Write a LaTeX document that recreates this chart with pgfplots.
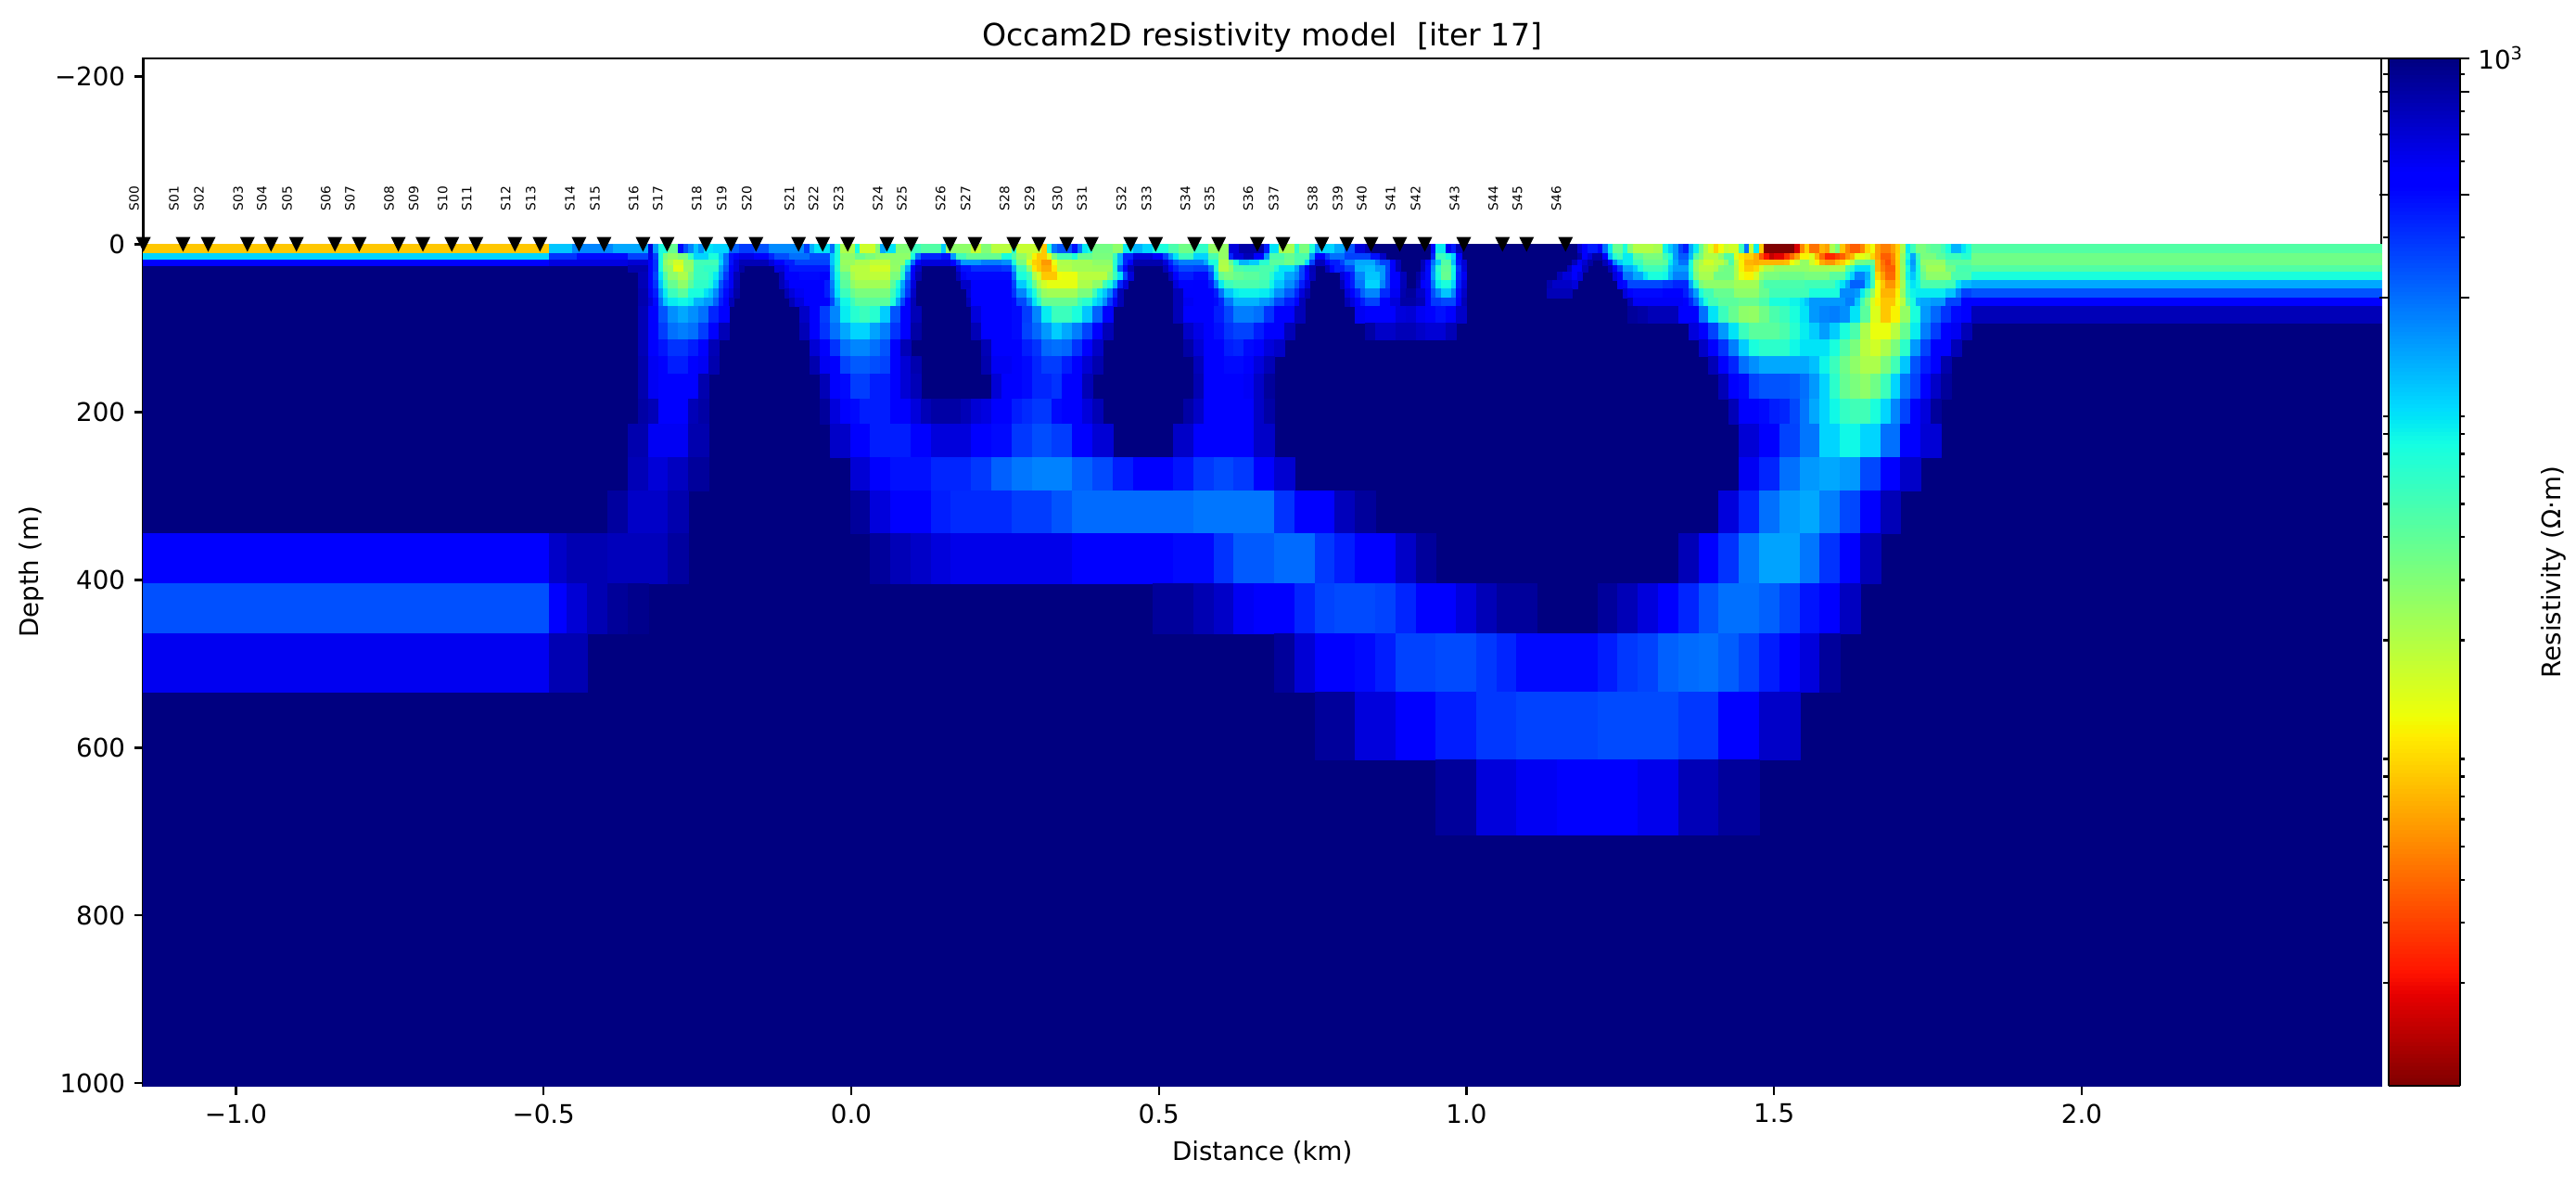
\documentclass[border=0pt]{standalone}
\usepackage{pgfplots}
\pgfplotsset{compat=1.18}
\usepackage{fontspec}
\setmainfont{DejaVu Sans}
\pgfdeclareplotmark{tridown}{%
  \pgfpathmoveto{\pgfqpoint{-2.89pt}{2.89pt}}%
  \pgfpathlineto{\pgfqpoint{2.89pt}{2.89pt}}%
  \pgfpathlineto{\pgfqpoint{0pt}{-2.89pt}}%
  \pgfpathclose\pgfusepathqfill}
\pgfplotsset{
  colormap={jetr}{rgb(0pt)=(.5,0,0); rgb(90pt)=(.909,0,0); rgb(110pt)=(1,.074,0); rgb(340pt)=(1,.926,0);
    rgb(350pt)=(.968,.963,0); rgb(360pt)=(.935,1,.032); rgb(625pt)=(.081,1,.887); rgb(650pt)=(0,.9,.968);
    rgb(660pt)=(0,.86,1); rgb(875pt)=(0,0,1); rgb(890pt)=(0,0,1); rgb(1000pt)=(0,0,.5)},
  cellstyle/.style={patch, patch type=rectangle, shader=faceted, faceted color=mapped color, line width=0.2pt, point meta=explicit, forget plot}
}
% one row of model cells: depth top, depth bottom, list of first column / last column / resistivity
\newcommand{\cellrow}[3]{%
  \gdef\rc{}%
  \foreach \a/\b/\v in {#3}{%
    \pgfmathsetmacro\xa{-0.03466+0.008207*\a}%
    \pgfmathsetmacro\xb{-0.03466+0.008207*\b}%
    \pgfmathsetmacro\mm{log10(\v)}%
    \xdef\rc{\rc (\xa,#1) [\mm] (\xb,#1) [\mm] (\xb,#2) [\mm] (\xa,#2) [\mm] }%
  }%
  \edef\tmp{\noexpand\addplot[cellstyle] coordinates {\rc};}\tmp
}
\begin{document}
\begin{tikzpicture}
\path[use as bounding box] (0,0) rectangle (1003.83pt,461.81pt);
\begin{axis}[
  at={(55.83pt,38.66pt)}, anchor=south west,
  scale only axis, width=872.1pt, height=400.4pt,
  xmin=-1.1507, xmax=2.4868, ymin=-221.7, ymax=1003, y dir=reverse,
  clip=false,
  point meta min=0, point meta max=3, colormap name=jetr,
  axis line style={line width=0.8pt},
  tick align=outside, tickwidth=3.5pt, subtickwidth=2pt,
  tick style={black, line width=0.8pt},
  xtick pos=bottom, ytick pos=left,
  xtick={-1,-0.5,0,0.5,1,1.5,2},
  xticklabels={−1.0,−0.5,0.0,0.5,1.0,1.5,2.0},
  ytick={-200,0,200,400,600,800,1000},
  yticklabels={−200,0,200,400,600,800,1000},
  tick label style={font=\fontsize{10}{12}\selectfont},
  xlabel={Distance (km)}, ylabel={Depth (m)},
  label style={font=\fontsize{10}{12}\selectfont},
  ylabel style={yshift=-2.6pt},
  title={Occam2D resistivity model\ \ [iter 17]},
  title style={font=\fontsize{12}{14}\selectfont, yshift=-7pt},
  colorbar sampled,
  colorbar shift/.style={xshift=2.5pt},
  colorbar style={
    samples=257,
    width=27.8pt,
    ytick={3,2.9031,2.7782,2.6021,2.3010},
    yticklabels={10\textsuperscript{3},,,,},
    minor ytick={2.9542,2.8451,2.6990,2.4771,1.9542,1.9031,1.8451,1.7782,1.6990,1.6021,1.4771,1.3010,0.9542,0.9031,0.8451,0.7782,0.6990,0.6021,0.4771,0.3010},
    tick align=outside, tickwidth=3.5pt, subtickwidth=2pt,
    tick style={black, line width=0.8pt},
    axis line style={line width=0.8pt},
    ylabel={Resistivity (Ω·m)},
    ylabel style={font=\fontsize{10}{12}\selectfont},
    yticklabel style={font=\fontsize{10}{12}\selectfont},
  },
]
% background
\addplot[cellstyle] coordinates {(-1.1507,0) [3] (2.4868,0) [3] (2.4868,1003) [3] (-1.1507,1003) [3]};
% R0
\cellrow{0}{11}{-135.98/-55.5/8,-55.5/-51/110,-51/-43/170,-43/-36/135,-36/-35/575,-35/-34/150,-34/-32/72,-32/-30/38,-30/-29/400,-29/-28/250,-28/-27/170,-27/-26/110,-26/-25/160,-25/-23/90,-23/-20/100,-20/-18/220,-18/-15/280,-15/-12/240,-12/-5/165,-5/-4/280,-4/-3/130,-3/0/90,0/1/200,1/2/72,2/5/21,5/6/75,6/9/16,9/10/30,10/11/135,11/13/90,13/16/30,16/18/55,18/22/45,22/23/105,23/28/27,28/30/17,30/32/30,32/36/19,36/37/65,37/42/17,42/43/8,43/44/70,44/45/190,45/48/240,48/49/380,49/50/190,50/51/85,51/52/72,52/56/34,56/58/27,58/60/85,60/62/125,62/64/100,64/67/72,67/69/48,69/72/35,72/75/60,75/79/26,79/81/575,81/86/800,86/87/350,87/89/90,89/92/22,92/93/60,93/95/32,95/96/70,96/97/150,97/100/100,100/102/135,102/104/240,104/106/575,106/107/720,119/120/400,120/122/85,122/123/500,123/124/350,124/125/720,148/149/620,149/150/468,150/152/350,152/153/468,153/154/197,154/155/85,155/157/38,157/158/72,158/159/30,159/163/20,163/165/22,165/166/80,166/167/110,167/168/150,168/169/270,169/170/350,170/171/135,171/172/85,172/173/38,173/174/21,174/175/14,175/176/8.5,176/177/12,177/178/17,178/180/15.5,180/181/55,181/182/197,182/183/17,183/184/85,184/185/8,185/191/1,191/192/1.7,192/193/5,193/194/8.5,194/196/4.3,196/197/7,197/198/6,198/199/21,199/200/32,200/201/8,201/202/5,202/204/3.7,204/205/5,205/206/9,206/207/12,207/208/6,208/210/4.7,210/211/6,211/212/8.5,212/213/21,213/214/85,214/215/55,215/217/32,217/218/38,218/220/42,220/221/52,221/222/72,222/224/125,224/225/90,225/226/72,226/307.2/45}
% R1
\cellrow{11}{18}{-135.98/-55.5/100,-55.5/-50/300,-50/-40/400,-40/-36/270,-36/-35/520,-35/-34/270,-34/-33/72,-33/-32/32,-32/-30/26,-30/-28/32,-28/-27/60,-27/-24/100,-24/-22/72,-22/-21/110,-21/-20/197,-20/-19/380,-19/-18/468,-18/-15/540,-15/-12/468,-12/-11/330,-11/-8/250,-8/-4/197,-4/0/250,0/1/110,1/2/72,2/5/27,5/7/38,7/9/32,9/16/27,16/17/72,17/18/197,18/22/330,22/24/380,24/25/150,25/27/52,27/34/38,34/36/72,36/37/45,37/39/26,39/40/19,40/41/11,41/43/8,43/44/14,44/45/32,45/48/52,48/49/72,49/52/38,52/56/32,56/57/55,57/58/130,58/60/330,60/64/575,64/66/468,66/67/270,67/68/150,68/69/90,69/72/55,72/75/100,75/77/48,77/79/26,79/80/330,80/82/575,82/84/720,84/86/468,86/87/150,87/90/48,90/92/38,92/95/48,95/96/150,96/98/468,98/99/270,99/102/197,102/107/270,107/109/380,109/110/650,119/120/330,120/122/55,122/123/72,123/124/100,124/125/468,148/149/800,149/150/468,150/151/575,151/153/800,153/154/468,154/155/120,155/156/65,156/157/52,157/159/85,159/161/42,161/165/32,165/166/52,166/167/72,167/168/150,168/170/230,170/171/120,171/172/45,172/173/32,173/176/20,176/177/27,177/179/45,179/180/14,180/181/10,181/183/8.5,183/184/6.5,184/185/3.5,185/186/2.1,186/187/1.5,187/189/1.8,189/190/2.6,190/191/4,191/192/6,192/194/11,194/195/14,195/196/7,196/197/4,197/199/2.4,199/200/3,200/201/3.7,201/202/5.5,202/203/7,203/205/13,205/206/15,206/207/9,207/208/6,208/210/3.7,210/211/5,211/212/9,212/213/26,213/214/72,214/215/135,215/216/55,216/219/32,219/221/42,221/224/55,224/226/65,226/307.2/35}
% R2
\cellrow{18}{25}{-135.98/-55.5/468,-55.5/-40/560,-40/-36/600,-36/-35/468,-35/-34/300,-34/-33/72,-33/-32/27,-32/-31/21,-31/-29/15.5,-29/-27/27,-27/-22/52,-22/-21/100,-21/-20/197,-20/-19/380,-19/-18/575,-18/-12/720,-12/-11/575,-11/-9/468,-9/-7/350,-7/0/270,0/1/110,1/2/72,2/5/25,5/8/21,8/12/18,12/15/27,15/16/72,16/17/197,17/18/468,18/24/575,24/25/468,25/26/270,26/30/150,30/34/180,34/36/160,36/37/72,37/39/32,39/40/14,40/41/8.5,41/42/8,42/44/5.7,44/45/12.5,45/48/21,48/52/23,52/56/27,56/57/65,57/58/130,58/59/330,59/60/468,60/66/760,66/67/575,67/68/330,68/69/220,69/74/180,74/75/135,75/77/72,77/79/21,79/80/38,80/81/72,81/83/125,83/85/105,85/87/65,87/90/42,90/92/35,92/94/48,94/95/95,95/96/270,96/98/700,98/99/468,99/101/350,101/102/270,102/104/180,104/108/135,108/109/197,109/111/270,111/112/468,112/113/720,117/118/720,118/119/468,119/120/197,120/121/105,121/123/45,123/124/115,124/125/380,125/126/600,147/148/720,148/149/500,149/150/620,150/151/800,153/154/720,154/155/468,155/156/170,156/157/105,157/159/85,159/161/55,161/165/38,165/166/42,166/167/85,167/168/135,168/170/197,170/171/72,171/172/27,172/173/21,173/175/15.5,175/177/19,177/178/26,178/179/48,179/180/19,180/181/11,181/183/7,183/184/6.5,184/189/7,189/190/7.5,190/191/12,191/192/15.5,192/194/26,194/195/15.5,195/196/11,196/197/6.5,197/199/5.5,199/200/7.5,200/201/8.5,201/202/12,202/203/19,203/205/35,205/207/38,207/208/7,208/209/4.3,209/210/3.3,210/211/4.7,211/212/8.5,212/213/27,213/214/85,214/215/150,215/216/65,216/217/27,217/221/26,221/226/42,226/307.2/35}
% R3
\cellrow{25}{33}{-40/-36/760,-36/-35/468,-35/-34/300,-34/-33/72,-33/-32/30,-32/-31/26,-31/-29/13.5,-29/-27/26,-27/-25/55,-25/-22/60,-22/-21/135,-21/-20/230,-20/-19/468,-19/-18/575,-18/-17/800,-11/-9/575,-9/-8/468,-8/0/360,0/1/135,1/2/65,2/4/27,4/8/19,8/12/15.5,12/14/26,14/15/52,15/16/130,16/17/468,17/18/650,25/26/575,26/28/380,28/34/310,34/36/290,36/37/135,37/39/55,39/40/27,40/41/10,41/42/8,42/44/6.5,44/45/10,45/48/20,48/52/23,52/56/24,56/57/65,57/58/230,58/59/468,59/60/720,66/67/720,67/68/468,68/69/330,69/72/260,72/75/275,75/76/180,76/77/65,77/79/20,79/80/27,80/82/48,82/85/52,85/88/48,88/89/65,89/92/90,92/93/135,93/94/260,94/95/490,95/96/720,98/99/700,99/100/468,100/102/350,102/104/260,104/106/125,106/108/115,108/110/150,110/111/260,111/112/468,112/113/720,117/118/700,118/119/400,119/120/160,120/121/65,121/123/40,123/124/78,124/125/300,125/126/575,146/147/700,147/149/468,149/150/720,154/155/720,155/156/468,156/157/270,157/159/135,159/160/105,160/161/72,161/165/52,165/166/60,166/167/110,167/170/145,170/171/72,171/172/27,172/175/19,175/176/21,176/177/32,177/179/35,179/180/21,180/181/11,181/183/8,183/184/9,184/185/15.5,185/187/21,187/194/26,194/198/23,198/201/21,201/202/45,202/203/60,203/206/90,206/207/52,207/208/7,208/209/4.7,209/211/3.7,211/212/8.5,212/213/26,213/214/72,214/215/135,215/216/72,216/217/32,217/221/23,221/223/35,223/226/50,226/307.2/45}
% R4
\cellrow{33}{43}{-38/-36/720,-36/-35/468,-35/-34/270,-34/-33/90,-33/-32/45,-32/-30/27,-30/-28/21,-28/-27/34,-27/-24/55,-24/-23/65,-23/-22/85,-22/-21/160,-21/-20/290,-20/-19/490,-19/-18/720,-10/-9/720,-9/-8/468,-8/-6/430,-6/-2/400,-2/0/430,0/1/145,1/2/78,2/4/38,4/5/22,5/8/19,8/12/18,12/14/32,14/15/65,15/16/200,16/17/490,17/18/760,25/26/720,26/27/490,27/36/400,36/37/205,37/39/72,39/40/55,40/41/21,41/42/15,42/45/8,45/46/12,46/49/12.5,49/52/19,52/55/19,55/56/30,56/57/55,57/58/90,58/59/270,59/60/575,67/68/700,68/69/468,69/72/350,72/75/400,75/76/260,76/77/90,77/78/38,78/80/32,80/82/38,82/85/42,85/87/48,87/88/65,88/90/90,90/92/135,92/93/170,93/94/270,94/95/468,95/96/700,101/102/575,102/103/468,103/104/330,104/106/170,106/109/110,109/110/150,110/111/270,111/113/468,113/114/700,116/117/800,117/118/575,118/119/400,119/120/150,120/121/72,121/123/38,123/124/80,124/125/330,125/126/500,144/145/720,145/147/575,147/148/468,148/149/575,155/156/575,156/157/450,157/159/190,159/161/135,161/162/90,162/165/72,165/166/78,166/167/125,167/170/175,170/171/80,171/172/32,172/175/22,175/179/35,179/180/21,180/181/12.5,181/183/11,183/184/15,184/185/26,185/188/32,188/193/35,193/198/32,198/201/42,201/202/72,202/203/100,203/205/175,205/206/125,206/207/55,207/208/9,208/209/6,209/211/4,211/212/8.5,212/213/26,213/214/80,214/215/110,215/216/72,216/217/38,217/222/27,222/226/48,226/307.2/72}
% R5
\cellrow{43}{53}{-38/-36/720,-36/-35/468,-35/-34/300,-34/-33/110,-33/-32/60,-32/-30/38,-30/-28/27,-28/-27/42,-27/-24/60,-24/-23/72,-23/-22/105,-22/-21/240,-21/-20/350,-20/-19/490,-19/-18/760,-10/-9/720,-9/-8/575,-8/-6/468,-6/-2/430,-2/-1/468,-1/0/350,0/1/180,1/2/85,2/4/42,4/5/27,5/12/23,12/13/42,13/14/72,14/15/135,15/16/270,16/17/575,26/28/650,28/34/440,34/36/430,36/37/270,37/39/105,39/40/72,40/41/38,41/42/21,42/43/15.5,43/49/13,49/52/21,52/54/27,54/55/52,55/56/72,56/57/125,57/58/330,58/59/575,68/69/575,69/72/420,72/75/430,75/76/350,76/77/180,77/78/85,78/80/55,80/85/48,85/87/52,87/88/78,88/90/110,90/92/160,92/93/230,93/94/350,94/95/575,101/102/720,102/103/468,103/104/350,104/106/190,106/109/100,109/110/170,110/111/270,111/113/468,113/114/720,116/117/760,117/118/468,118/119/400,119/120/190,120/121/85,121/123/72,123/124/100,124/125/350,125/126/575,142/143/760,143/147/650,147/148/575,156/157/468,157/158/400,158/165/260,165/167/290,167/170/330,170/171/135,171/172/65,172/173/32,173/179/27,179/184/23,184/185/38,185/193/48,193/199/52,199/200/72,200/201/90,201/202/135,202/205/220,205/206/110,206/207/55,207/208/12,208/209/8,209/211/5.5,211/212/9,212/213/23,213/214/65,214/215/90,215/216/78,216/221/48,221/223/52,223/224/90,224/226/120,226/307.2/135}
% R6
\cellrow{53}{64}{-38/-36/760,-36/-35/500,-35/-34/350,-34/-33/150,-33/-32/85,-32/-30/55,-30/-28/42,-28/-25/72,-25/-24/90,-24/-23/110,-23/-22/165,-22/-21/290,-21/-20/400,-20/-19/575,-19/-18/800,-9/-8/720,-8/-7/575,-7/-5/500,-5/-1/468,-1/0/350,0/1/197,1/2/90,2/4/55,4/5/38,5/12/32,12/13/55,13/14/85,14/15/160,15/16/300,16/17/650,27/28/620,28/36/468,36/37/300,37/39/170,39/40/100,40/41/72,41/42/38,42/43/25,43/49/23,49/52/32,52/53/52,53/54/85,54/55/110,55/56/170,56/57/330,57/58/720,68/70/720,70/71/468,71/75/450,75/76/468,76/77/350,77/78/197,78/80/110,80/81/85,81/85/80,85/87/85,87/88/105,88/90/160,90/92/230,92/93/330,93/94/575,94/95/760,102/103/575,103/104/468,104/105/330,105/106/220,106/109/170,109/111/320,111/113/500,113/114/760,114/116/850,116/118/650,118/119/468,119/120/250,120/121/170,121/123/110,123/124/170,124/125/400,125/126/650,142/147/720,157/158/575,158/159/468,159/165/400,165/169/430,169/170/350,170/171/230,171/172/145,172/173/72,173/175/52,175/179/38,179/184/27,184/186/38,186/194/52,194/200/72,200/203/165,203/204/150,204/205/85,205/206/52,206/207/26,207/208/12,208/211/7,211/212/11,212/213/26,213/214/60,214/215/80,215/221/85,221/223/110,223/224/175,224/226/270,226/307.2/240}
% R7
\cellrow{64}{74}{-38/-36/760,-36/-35/575,-35/-34/400,-34/-33/197,-33/-32/110,-32/-30/85,-30/-28/78,-28/-27/85,-27/-25/125,-25/-23/150,-23/-22/220,-22/-21/350,-21/-20/468,-20/-19/720,-8/-7/720,-7/-5/575,-5/0/450,0/1/260,1/2/135,2/4/78,4/5/55,5/12/42,12/13/70,13/14/135,14/15/260,15/16/468,16/17/720,27/28/720,28/36/440,36/37/400,37/39/260,39/40/170,40/41/90,41/42/65,42/49/38,49/50/55,50/52/65,52/53/90,53/54/110,54/55/165,55/56/290,56/57/500,57/58/720,68/70/720,70/72/500,72/76/468,76/77/400,77/78/330,78/80/190,80/85/125,85/87/150,87/88/175,88/90/260,90/92/350,92/93/468,93/94/720,102/103/720,103/104/575,104/105/468,105/106/350,106/109/270,109/111/430,111/113/575,113/116/800,116/118/720,118/119/468,119/121/290,121/124/260,124/125/468,125/126/720,158/159/720,159/169/490,169/170/468,170/171/330,171/172/220,172/173/110,173/174/72,174/176/52,176/180/42,180/184/38,184/186/48,186/190/72,190/192/80,192/193/90,193/194/110,194/201/150,201/203/180,203/204/110,204/205/52,205/206/32,206/207/15,207/208/11,208/211/8,211/212/12,212/213/19,213/214/48,214/215/72,215/216/125,216/218/135,218/221/150,221/224/270,224/225/430,225/307.2/468}
% R8
\cellrow{74}{94}{-38/-36/720,-36/-34/468,-34/-32/240,-32/-30/160,-30/-28/135,-28/-26/160,-26/-24/197,-24/-22/330,-22/-20/468,-6/-4/650,-4/-2/468,-2/0/280,0/2/170,2/4/85,4/6/65,6/8/55,8/10/65,10/12/105,12/14/240,14/16/468,16/18/720,28/30/575,30/32/468,32/36/430,36/38/400,38/40/280,40/42/170,42/44/85,44/48/55,48/50/72,50/52/110,52/54/220,54/56/468,68/70/720,70/74/468,74/76/440,76/78/350,78/80/260,80/84/180,84/86/197,86/88/300,88/90/430,90/92/468,92/94/720,104/106/500,106/112/468,112/114/575,114/116/600,116/118/500,118/120/468,120/122/380,122/124/468,124/126/650,158/160/850,160/162/800,162/168/720,168/170/468,170/172/430,172/174/197,174/176/90,176/178/55,178/180/38,180/182/27,182/184/26,184/186/35,186/188/48,188/190/55,190/192/72,192/194/90,194/196/150,196/198/170,198/200/180,200/202/160,202/204/90,204/206/42,206/208/14,208/210/8,210/212/11,212/214/26,214/216/72,216/218/150,218/220/210,220/222/300,222/224/400,224/226/468,226/307.2/720}
% R9
\cellrow{94}{114}{-38/-36/720,-36/-34/468,-34/-32/280,-32/-30/197,-30/-28/180,-28/-26/197,-26/-24/280,-24/-22/468,-22/-20/720,-6/-4/720,-4/-2/468,-2/0/300,0/2/197,2/4/135,4/8/100,8/10/140,10/12/180,12/14/300,14/16/468,16/18/800,28/30/720,30/36/460,36/38/400,38/40/270,40/42/210,42/44/150,44/46/105,46/48/135,48/50/180,50/52/270,52/54/468,54/56/720,70/72/650,72/74/540,74/76/468,76/78/380,78/80/300,80/84/270,84/86/350,86/90/468,90/92/720,106/108/800,108/112/650,112/116/720,116/118/650,118/122/600,122/124/720,170/172/575,172/174/430,174/176/270,176/178/150,178/180/90,180/182/55,182/188/42,188/190/48,190/192/65,192/194/85,194/196/105,196/198/145,198/200/105,200/202/72,202/204/48,204/206/21,206/210/12.5,210/212/19,212/214/38,214/216/85,216/218/180,218/220/280,220/222/430,222/224/500,224/226/720}
% R10
\cellrow{114}{134}{-38/-36/720,-36/-34/468,-34/-32/370,-32/-28/300,-28/-26/350,-26/-24/468,-24/-22/720,-4/-2/600,-2/0/468,0/2/300,2/4/197,4/8/170,8/10/197,10/12/240,12/14/468,14/16/720,30/32/720,32/36/468,36/38/430,38/40/350,40/42/300,42/44/210,44/46/197,46/48/210,48/50/300,50/52/468,52/54/650,70/72/800,72/74/600,74/76/468,76/78/430,78/80/350,80/82/330,82/84/400,84/86/468,86/88/575,88/90/650,172/174/650,174/176/468,176/178/300,178/180/180,180/182/105,182/184/72,184/190/62,190/192/78,192/198/90,198/200/72,200/202/45,202/204/32,204/206/19,206/208/15.5,208/210/21,210/212/32,212/214/62,214/216/150,216/218/270,218/220/430,220/222/468,222/224/720}
% R11
\cellrow{134}{154}{-38/-36/760,-36/-34/500,-34/-32/430,-32/-28/350,-28/-26/468,-26/-24/500,-24/-22/760,-4/-2/760,-2/0/500,0/2/468,2/4/270,4/8/230,8/10/250,10/12/270,12/14/468,14/16/600,16/18/760,30/32/760,32/36/500,36/38/468,38/40/400,40/42/330,42/46/280,46/48/350,48/50/468,50/52/600,52/54/760,72/74/700,74/78/468,78/82/400,82/84/468,84/86/575,86/88/720,174/176/720,176/178/468,178/180/330,180/182/197,182/184/160,184/194/135,194/196/115,196/198/80,198/200/55,200/202/35,202/204/27,204/208/21,208/210/32,210/212/52,212/214/110,214/216/240,216/218/350,218/220/468,220/222/760}
% R12
\cellrow{154}{184}{-38/-36/760,-36/-34/500,-34/-32/468,-32/-30/430,-30/-26/468,-26/-24/760,-2/0/720,0/2/468,2/4/400,4/8/280,8/12/350,12/14/468,14/16/600,16/18/720,32/34/600,34/36/468,36/38/430,38/40/400,40/44/330,44/46/300,46/48/430,48/50/468,50/52/720,72/74/740,74/82/468,82/84/490,84/86/650,86/88/850,176/178/720,178/180/468,180/182/400,182/184/270,184/190/240,190/192/230,192/194/197,194/196/150,196/198/100,198/200/62,200/202/38,202/204/32,204/206/27,206/208/35,208/210/55,210/212/100,212/214/190,214/216/270,216/218/468,218/220/650,220/222/850}
% R13
\cellrow{184}{214}{-38/-36/800,-36/-34/720,-34/-28/468,-28/-26/720,-26/-24/800,-2/0/850,0/2/575,2/4/468,4/6/400,6/12/350,12/16/468,16/18/575,18/20/720,20/26/800,26/28/720,28/30/600,30/32/560,32/34/468,34/36/430,36/38/350,38/40/320,40/44/290,44/46/400,46/50/468,50/52/575,52/54/720,70/72/800,72/74/650,74/84/468,84/86/650,86/88/800,178/180/720,180/184/468,184/186/400,186/188/350,188/190/330,190/192/260,192/194/190,194/196/135,196/198/100,198/200/78,200/202/58,202/206/52,206/208/72,208/210/100,210/212/170,212/214/270,214/216/430,216/218/575,218/220/850}
% R14
\cellrow{214}{254}{-40/-36/760,-36/-28/500,-28/-24/760,0/4/650,4/8/468,8/16/350,16/20/468,20/28/575,28/32/468,32/36/400,36/40/290,40/44/250,44/48/280,48/52/468,52/56/600,68/72/650,72/84/468,84/88/650,180/184/600,184/188/468,188/192/270,192/196/190,196/200/100,200/204/78,204/208/100,208/212/197,212/216/468,216/220/600}
% R15
\cellrow{254}{294}{-40/-36/720,-36/-32/590,-32/-28/680,-28/-24/850,4/8/600,8/12/468,12/20/380,20/28/330,28/32/290,32/36/220,36/40/190,40/48/175,48/52/220,52/56/260,56/60/350,60/68/440,68/72/370,72/76/290,76/80/260,80/84/290,84/88/468,88/92/620,180/184/500,184/188/330,188/192/197,192/196/150,196/200/135,200/204/150,204/208/260,208/212/430,212/216/650}
% R16
\cellrow{294}{344}{-44/-40/830,-40/-32/650,-32/-28/760,4/8/850,8/12/575,12/16/468,16/20/430,20/24/350,24/36/320,36/44/280,44/48/240,48/72/205,72/84/190,84/88/190,88/92/300,92/96/430,96/100/468,100/104/700,104/108/850,176/180/575,180/184/330,184/188/197,188/192/150,192/196/135,196/200/180,200/204/260,204/208/468,208/212/720}
% R17
\cellrow{344}{404}{-135.98/-55.5/468,-55.5/-52/650,-52/-44/740,-44/-32/700,-32/-28/830,8/12/850,12/16/720,16/20/650,20/24/575,24/48/530,48/64/468,64/68/430,68/76/400,76/80/300,80/88/230,88/96/205,96/100/290,100/104/350,104/108/430,108/112/468,112/116/650,116/120/850,168/172/720,172/176/468,176/180/300,180/184/190,184/192/140,192/196/190,196/200/300,200/204/468,204/208/720}
% R18
\cellrow{404}{464}{-135.98/-55.5/245,-55.5/-52/468,-52/-48/600,-48/-44/740,-44/-40/860,-40/-36/930,64/72/850,72/76/740,76/80/650,80/84/500,84/88/468,88/92/430,92/96/330,96/100/270,100/108/255,108/112/270,112/116/330,116/120/430,120/124/468,124/128/575,128/132/720,132/140/850,152/156/850,156/160/720,160/164/575,164/168/468,168/172/330,172/176/240,176/184/197,184/188/220,188/192/270,192/196/370,196/200/468,200/204/680}
% R19
\cellrow{464}{534}{-135.98/-55.5/510,-55.5/-48/740,88/92/850,92/96/600,96/104/468,104/108/400,108/112/350,112/120/270,120/128/255,128/132/290,132/136/330,136/152/400,152/156/350,156/160/290,160/164/270,164/168/220,168/172/205,172/176/197,176/180/225,180/184/270,184/188/350,188/192/468,192/196/575,196/200/850}
% R20
\cellrow{534}{614}{96/104/850,104/112/575,112/120/468,120/128/350,128/136/290,136/152/270,152/168/255,168/176/290,176/184/440,184/192/650}
% R21
\cellrow{614}{704}{120/128/850,128/136/575,136/144/500,144/160/468,160/168/520,168/176/720,176/184/850}
% stations
\addplot[only marks, mark=tridown, black, point meta=explicit symbolic,
  nodes near coords,
  every node near coord/.style={rotate=90, anchor=west, inner sep=0pt, xshift=13pt, yshift=3.6pt, font=\fontsize{5}{6}\selectfont, black}]
 coordinates {(-1.1505,0)[S00](-1.086,0)[S01](-1.0452,0)[S02](-0.9814,0)[S03](-0.943,0)[S04](-0.9018,0)[S05](-0.8392,0)[S06](-0.7997,0)[S07](-0.7361,0)[S08](-0.6962,0)[S09](-0.6492,0)[S10](-0.6099,0)[S11](-0.5466,0)[S12](-0.5059,0)[S13](-0.4424,0)[S14](-0.4017,0)[S15](-0.3385,0)[S16](-0.2993,0)[S17](-0.2363,0)[S18](-0.1955,0)[S19](-0.1548,0)[S20](-0.0856,0)[S21](-0.0464,0)[S22](-0.0057,0)[S23](0.058,0)[S24](0.0974,0)[S25](0.1604,0)[S26](0.2011,0)[S27](0.2642,0)[S28](0.3049,0)[S29](0.3502,0)[S30](0.3902,0)[S31](0.4541,0)[S32](0.4948,0)[S33](0.558,0)[S34](0.5972,0)[S35](0.6601,0)[S36](0.7017,0)[S37](0.7648,0)[S38](0.8055,0)[S39](0.8448,0)[S40](0.8916,0)[S41](0.9323,0)[S42](0.9955,0)[S43](1.0585,0)[S44](1.0977,0)[S45](1.161,0)[S46]};
\end{axis}
\end{tikzpicture}
\end{document}
